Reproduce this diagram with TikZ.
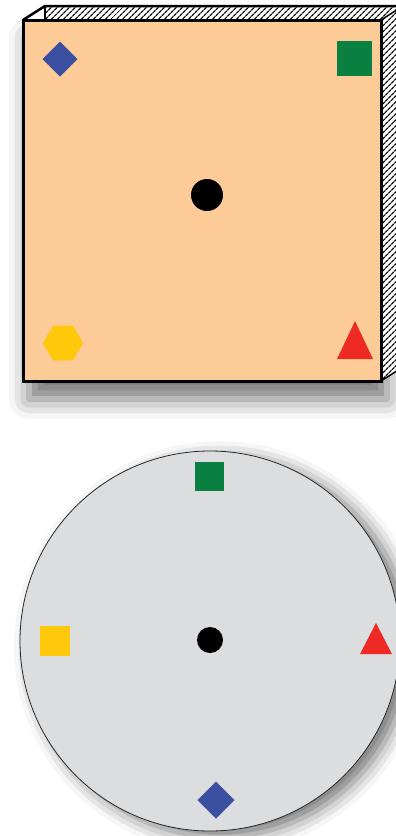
\documentclass[tikz,border=0pt]{standalone}
\usetikzlibrary{shapes.geometric, patterns.meta, shadows.blur}
\definecolor{peach}{RGB}{253,203,152}
\definecolor{dgray}{RGB}{220,221,223}
\definecolor{mblue}{RGB}{59,79,160}
\definecolor{mgreen}{RGB}{10,128,64}
\definecolor{myellow}{RGB}{255,200,10}
\definecolor{mred}{RGB}{238,42,36}

\begin{document}
\begin{tikzpicture}[x=1pt, y=-1pt,
    symb/.style={inner sep=0pt, outer sep=0pt},
    dia/.style={symb, diamond, fill=mblue, minimum size=#1},
    sq/.style={symb, rectangle, minimum size=#1},
    dot/.style={symb, circle, fill=black, minimum size=#1},
    hatch/.style={pattern={Lines[angle=45, distance=4pt, line width=1.3pt]}}]
  \useasboundingbox (0,0) rectangle (396,836);
  \clip (0,0) rectangle (396,836);

  % box
  \fill[white, blur shadow={shadow xshift=6pt, shadow yshift=-18pt, shadow blur radius=20pt, shadow opacity=55}]
    (23,20) rectangle (381,381);
  \fill[white] (23,20) -- (45,6) -- (403,6) -- (403,367) -- (381,381) -- cycle;
  \fill[hatch] (45,6) -- (403,6) -- (381,20) -- (45,20) -- cycle;
  \fill[hatch] (381,20) -- (403,6) -- (403,367) -- (381,381) -- cycle;
  \draw[line width=2.5pt] (23,20) -- (45,6) -- (403,6);
  \draw[line width=2.5pt] (45,6) -- (45,20);
  \draw[line width=1.5pt] (381,20) -- (403,6);
  \draw[line width=1.5pt] (381,381) -- (403,367);
  \draw[line width=3pt, fill=peach] (23,20) rectangle (381,381);

  \node[dia=35] (bdia) at (60,59) {};
  \node[sq=35, fill=mgreen] (bsq) at (354,58) {};
  \node[dot=32] (bdot) at (207,195) {};
  \node[symb, regular polygon, regular polygon sides=6, fill=myellow, minimum size=40] (bhex) at (63,343) {};
  \fill[mred] (337,359) -- (355,321) -- (373,359) -- cycle;

  % dial
  \node[circle, draw=black!85, line width=0.8pt, fill=dgray, minimum size=380, symb,
        blur shadow={shadow xshift=10pt, shadow yshift=-6pt, shadow blur radius=16pt, shadow opacity=55}]
    (dial) at (210,641) {};
  \node[sq=29, fill=mgreen] (csq) at (209,476) {};
  \node[sq=30, fill=myellow] (cyel) at (55,641) {};
  \node[dot=26] (cdot) at (210,640) {};
  \node[dia=37] (cdia) at (216,800) {};
  \fill[mred] (360,654) -- (376,623) -- (392,654) -- cycle;
\end{tikzpicture}
\end{document}
